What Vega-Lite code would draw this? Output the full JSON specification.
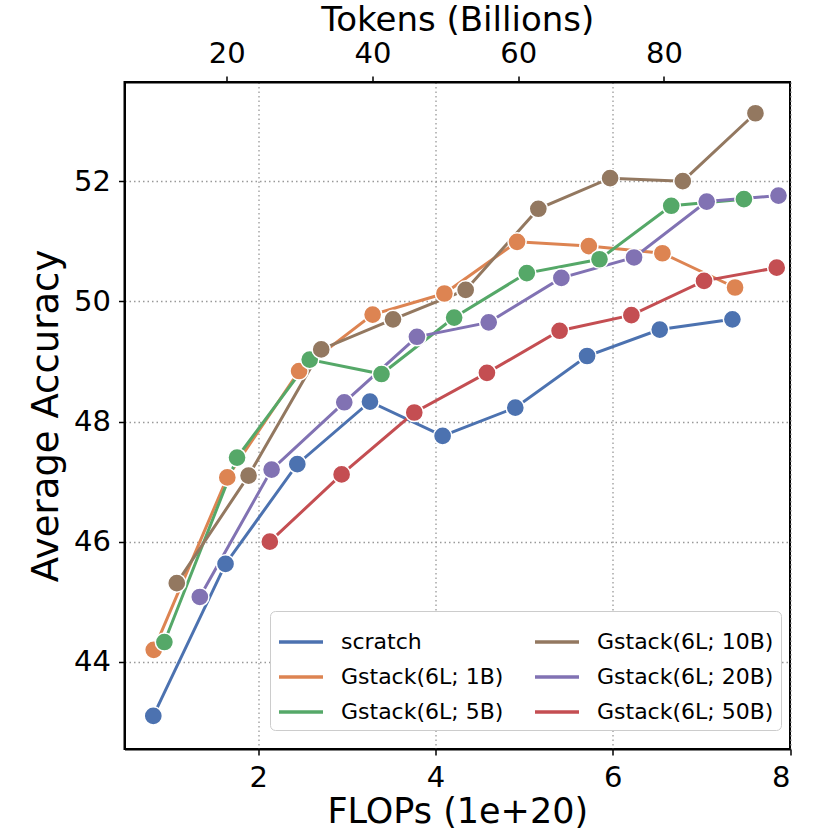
{
  "$schema": "https://vega.github.io/schema/vega-lite/v6.json",
  "width": 665.5,
  "height": 667,
  "autosize": "none",
  "padding": {"left": 124.5, "top": 82, "right": 40, "bottom": 81},
  "background": "white",
  "datasets": {
    "runs": [
      {"series": "scratch", "flops": 0.815, "acc": 43.10},
      {"series": "scratch", "flops": 1.63, "acc": 45.63},
      {"series": "scratch", "flops": 2.44, "acc": 47.29},
      {"series": "scratch", "flops": 3.26, "acc": 48.33},
      {"series": "scratch", "flops": 4.08, "acc": 47.76},
      {"series": "scratch", "flops": 4.90, "acc": 48.23},
      {"series": "scratch", "flops": 5.71, "acc": 49.09},
      {"series": "scratch", "flops": 6.53, "acc": 49.53},
      {"series": "scratch", "flops": 7.35, "acc": 49.70},
      {"series": "Gstack(6L; 1B)", "flops": 0.82, "acc": 44.20},
      {"series": "Gstack(6L; 1B)", "flops": 1.65, "acc": 47.07},
      {"series": "Gstack(6L; 1B)", "flops": 2.46, "acc": 48.84},
      {"series": "Gstack(6L; 1B)", "flops": 3.29, "acc": 49.78},
      {"series": "Gstack(6L; 1B)", "flops": 4.10, "acc": 50.13},
      {"series": "Gstack(6L; 1B)", "flops": 4.92, "acc": 50.99},
      {"series": "Gstack(6L; 1B)", "flops": 5.73, "acc": 50.92},
      {"series": "Gstack(6L; 1B)", "flops": 6.56, "acc": 50.80},
      {"series": "Gstack(6L; 1B)", "flops": 7.38, "acc": 50.23},
      {"series": "Gstack(6L; 5B)", "flops": 0.94, "acc": 44.33},
      {"series": "Gstack(6L; 5B)", "flops": 1.76, "acc": 47.40},
      {"series": "Gstack(6L; 5B)", "flops": 2.58, "acc": 49.03},
      {"series": "Gstack(6L; 5B)", "flops": 3.39, "acc": 48.79},
      {"series": "Gstack(6L; 5B)", "flops": 4.21, "acc": 49.73},
      {"series": "Gstack(6L; 5B)", "flops": 5.03, "acc": 50.47},
      {"series": "Gstack(6L; 5B)", "flops": 5.85, "acc": 50.70},
      {"series": "Gstack(6L; 5B)", "flops": 6.66, "acc": 51.59},
      {"series": "Gstack(6L; 5B)", "flops": 7.48, "acc": 51.70},
      {"series": "Gstack(6L; 10B)", "flops": 1.08, "acc": 45.31},
      {"series": "Gstack(6L; 10B)", "flops": 1.89, "acc": 47.10},
      {"series": "Gstack(6L; 10B)", "flops": 2.71, "acc": 49.20},
      {"series": "Gstack(6L; 10B)", "flops": 3.52, "acc": 49.70},
      {"series": "Gstack(6L; 10B)", "flops": 4.34, "acc": 50.19},
      {"series": "Gstack(6L; 10B)", "flops": 5.16, "acc": 51.54},
      {"series": "Gstack(6L; 10B)", "flops": 5.97, "acc": 52.05},
      {"series": "Gstack(6L; 10B)", "flops": 6.79, "acc": 52.00},
      {"series": "Gstack(6L; 10B)", "flops": 7.61, "acc": 53.13},
      {"series": "Gstack(6L; 20B)", "flops": 1.34, "acc": 45.08},
      {"series": "Gstack(6L; 20B)", "flops": 2.15, "acc": 47.20},
      {"series": "Gstack(6L; 20B)", "flops": 2.97, "acc": 48.32},
      {"series": "Gstack(6L; 20B)", "flops": 3.79, "acc": 49.41},
      {"series": "Gstack(6L; 20B)", "flops": 4.60, "acc": 49.65},
      {"series": "Gstack(6L; 20B)", "flops": 5.42, "acc": 50.39},
      {"series": "Gstack(6L; 20B)", "flops": 6.24, "acc": 50.73},
      {"series": "Gstack(6L; 20B)", "flops": 7.06, "acc": 51.66},
      {"series": "Gstack(6L; 20B)", "flops": 7.87, "acc": 51.76},
      {"series": "Gstack(6L; 50B)", "flops": 2.13, "acc": 46.00},
      {"series": "Gstack(6L; 50B)", "flops": 2.94, "acc": 47.12},
      {"series": "Gstack(6L; 50B)", "flops": 3.76, "acc": 48.15},
      {"series": "Gstack(6L; 50B)", "flops": 4.58, "acc": 48.81},
      {"series": "Gstack(6L; 50B)", "flops": 5.40, "acc": 49.51},
      {"series": "Gstack(6L; 50B)", "flops": 6.21, "acc": 49.77},
      {"series": "Gstack(6L; 50B)", "flops": 7.03, "acc": 50.34},
      {"series": "Gstack(6L; 50B)", "flops": 7.85, "acc": 50.56}
    ],
    "tokenTicks": [{"tokens": 20}, {"tokens": 40}, {"tokens": 60}, {"tokens": 80}]
  },
  "layer": [
    {
      "data": {"name": "runs"},
      "encoding": {
        "x": {
          "field": "flops", "type": "quantitative",
          "scale": {"domain": [0.49, 8.0], "nice": false, "zero": false},
          "axis": {
            "title": "FLOPs (1e+20)", "values": [2, 4, 6, 8], "grid": true,
            "labelPadding": 8, "titlePadding": 2, "titleFontSize": 35
          }
        },
        "y": {
          "field": "acc", "type": "quantitative",
          "scale": {"domain": [42.55, 53.65], "nice": false, "zero": false},
          "axis": {
            "title": "Average Accuracy", "values": [44, 46, 48, 50, 52], "grid": true,
            "labelPadding": 8, "titlePadding": 8
          }
        }
      },
      "layer": [
        {
          "mark": {"type": "line", "strokeWidth": 3},
          "encoding": {
            "color": {
              "field": "series", "type": "nominal",
              "scale": {
                "domain": ["scratch", "Gstack(6L; 1B)", "Gstack(6L; 5B)", "Gstack(6L; 10B)", "Gstack(6L; 20B)", "Gstack(6L; 50B)"],
                "range": ["#4C72B0", "#DD8452", "#55A868", "#937860", "#8172B3", "#C44E52"]
              },
              "legend": {
                "title": null, "orient": "none", "legendX": 145.5, "legendY": 529,
                "columns": 2, "symbolType": "stroke", "symbolSize": 1936,
                "symbolStrokeWidth": 3.5, "labelFontSize": 22, "labelOffset": 16,
                "labelLimit": 400, "columnPadding": 24, "rowPadding": -8, "padding": 7,
                "fillColor": "white", "strokeColor": "#cccccc", "cornerRadius": 5,
                "labelColor": "black"
              }
            }
          }
        },
        {
          "mark": {"type": "circle", "size": 330, "opacity": 1, "stroke": "white", "strokeWidth": 1.5},
          "encoding": {
            "fill": {
              "field": "series", "type": "nominal",
              "scale": {
                "domain": ["scratch", "Gstack(6L; 1B)", "Gstack(6L; 5B)", "Gstack(6L; 10B)", "Gstack(6L; 20B)", "Gstack(6L; 50B)"],
                "range": ["#4C72B0", "#DD8452", "#55A868", "#937860", "#8172B3", "#C44E52"]
              },
              "legend": null
            }
          }
        }
      ]
    },
    {
      "data": {"name": "tokenTicks"},
      "mark": {"type": "rule", "opacity": 0},
      "encoding": {
        "x": {
          "field": "tokens", "type": "quantitative",
          "scale": {"domain": [5.96, 97.3], "nice": false, "zero": false},
          "axis": {
            "orient": "top", "title": "Tokens (Billions)", "values": [20, 40, 60, 80],
            "grid": false, "labelPadding": 8, "titlePadding": 2, "titleFontSize": 34
          }
        }
      }
    }
  ],
  "resolve": {"scale": {"x": "independent"}, "axis": {"x": "independent"}},
  "config": {
    "font": "DejaVu Sans",
    "view": {"stroke": "black", "strokeWidth": 2},
    "axis": {
      "labelFont": "DejaVu Sans", "labelFontSize": 29, "labelColor": "black",
      "titleFont": "DejaVu Sans", "titleFontSize": 37, "titleFontWeight": "normal", "titleColor": "black",
      "domainColor": "black", "domainWidth": 2,
      "tickColor": "black", "tickWidth": 1.5, "tickSize": 6,
      "gridColor": "#999999", "gridDash": [1.5, 3], "gridWidth": 1.3
    },
    "legend": {"labelFont": "DejaVu Sans"}
  }
}
